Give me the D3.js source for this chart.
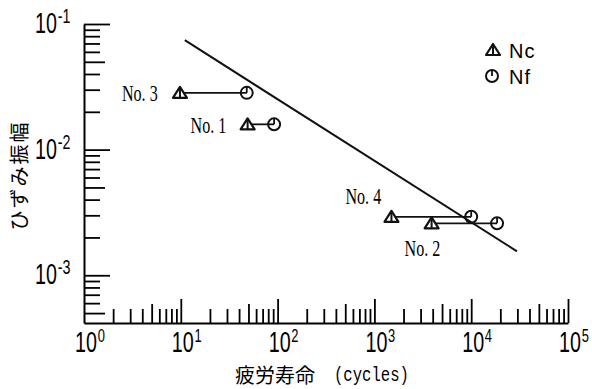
<!DOCTYPE html>
<html>
<head>
<meta charset="utf-8">
<script src="https://cdn.jsdelivr.net/npm/d3@7"></script>
<style>
  body { margin: 0; background: #fff; }
</style>
</head>
<body>
<script>
// values
const specimens = ["No. 1", "No. 2", "No. 3", "No. 4"];
const cyclesNc = [49, 3900, 9.8, 1500];
const cyclesNf = [92, 18500, 48, 10000];
const strainAmp = [0.0159, 0.00259, 0.0283, 0.00292];
const fitCycles = [11, 29700];
const fitStrain = [0.0743, 0.00155];
const xTickExps = [0, 1, 2, 3, 4, 5];
const yTickExps = [-1, -2, -3];
const legendLabels = ["Nc", "Nf"];

const width = 592;
const height = 389;

const x = d3.scaleLog().domain([1, 1e5]).range([84, 568]);
const y = d3.scaleLog().domain([Math.pow(10, -3.38), 0.1]).range([323, 24]);

const svg = d3.select("body").append("svg")
    .attr("width", width)
    .attr("height", height)
    .attr("viewBox", [0, 0, width, height]);

// mantissa of a tick value: 1 = decade, 5 = half decade
const mant = v => Math.round(v / Math.pow(10, Math.floor(Math.log10(v) + 1e-9)));

// x axis, ticks pointing up into the plot
svg.append("g")
    .attr("transform", `translate(0,${y.range()[0]})`)
    .call(d3.axisBottom(x)
        .tickValues(x.ticks().filter(v => v > 1))
        .tickSizeOuter(0)
        .tickFormat(""))
    .call(g => g.select(".domain").attr("stroke-width", 2))
    .call(g => g.selectAll(".tick line")
        .attr("stroke-width", 1.8)
        .attr("y2", d => mant(d) === 1 ? -24 : mant(d) === 5 ? -19 : -14));

// y axis, ticks pointing right
svg.append("g")
    .attr("transform", `translate(${x.range()[0]},0)`)
    .call(d3.axisLeft(y)
        .tickValues(y.ticks())
        .tickSizeOuter(0)
        .tickFormat(""))
    .call(g => g.select(".domain").attr("stroke-width", 2))
    .call(g => g.selectAll(".tick line")
        .attr("stroke-width", 1.8)
        .attr("x2", d => mant(d) === 1 ? 26 : mant(d) === 5 ? 21 : 16));

// power-of-ten labels, condensed like the original lettering
function powLabel(g, px, py, exp, supSize) {
  const t = g.append("g").attr("transform", `translate(${px},${py}) scale(0.68,1)`);
  t.append("text")
      .attr("text-anchor", "end")
      .attr("font-family", "Liberation Sans, Arial, sans-serif")
      .attr("font-size", 29)
      .text("10");
  t.append("text")
      .attr("x", 1)
      .attr("y", -10)
      .attr("font-family", "Liberation Sans, Arial, sans-serif")
      .attr("font-size", supSize)
      .text(exp < 0 ? "-" + (-exp) : exp);
}

const xLab = svg.append("g");
xTickExps.forEach(e => powLabel(xLab, x(Math.pow(10, e)) + 13, 352, e, 19));

const yLab = svg.append("g");
yTickExps.forEach(e => powLabel(yLab, 57, y(Math.pow(10, e)) + 9, e, 21));

// axis titles
svg.append("text")
    .attr("transform", `translate(27,${(y.range()[0] + y.range()[1]) / 2 + 2}) rotate(-90)`)
    .attr("text-anchor", "middle")
    .attr("font-family", "Noto Sans CJK JP, sans-serif")
    .attr("font-size", 20)
    .attr("letter-spacing", 2)
    .text("ひずみ振幅");

svg.append("text")
    .attr("x", 235)
    .attr("y", 383)
    .attr("font-family", "Noto Sans CJK JP, sans-serif")
    .attr("font-size", 20)
    .text("疲労寿命");
svg.append("text")
    .attr("transform", "translate(334,381) scale(0.78,1)")
    .attr("font-family", "Liberation Mono, monospace")
    .attr("font-size", 20)
    .text("(cycles)");

// fitted line
const line = d3.line()
    .x(d => x(d[0]))
    .y(d => y(d[1]));

svg.append("path")
    .datum(d3.zip(fitCycles, fitStrain))
    .attr("fill", "none")
    .attr("stroke", "#111")
    .attr("stroke-width", 2)
    .attr("d", line);

// markers
function triangle(g, cx, cy) {
  g.append("path")
      .attr("d", `M${cx - 7},${cy + 5}L${cx},${cy - 6}L${cx + 7},${cy + 5}Z`)
      .attr("fill", "#fff")
      .attr("stroke", "#111")
      .attr("stroke-width", 2.2)
      .attr("stroke-linejoin", "round");
  g.append("line")
      .attr("x1", cx).attr("y1", cy - 5)
      .attr("x2", cx).attr("y2", cy + 5)
      .attr("stroke", "#111")
      .attr("stroke-width", 2);
}

function clock(g, cx, cy) {
  g.append("circle")
      .attr("cx", cx).attr("cy", cy).attr("r", 6)
      .attr("fill", "none")
      .attr("stroke", "#111")
      .attr("stroke-width", 2);
  g.append("line")
      .attr("x1", cx).attr("y1", cy - 6)
      .attr("x2", cx).attr("y2", cy)
      .attr("stroke", "#111")
      .attr("stroke-width", 1.8);
}

const pts = svg.append("g");
specimens.forEach((s, i) => {
  pts.append("line")
      .attr("x1", x(cyclesNc[i]))
      .attr("x2", x(cyclesNf[i]))
      .attr("y1", y(strainAmp[i]))
      .attr("y2", y(strainAmp[i]))
      .attr("stroke", "#111")
      .attr("stroke-width", 1.8);
  triangle(pts, x(cyclesNc[i]), y(strainAmp[i]));
  clock(pts, x(cyclesNf[i]), y(strainAmp[i]));
});

// specimen labels (offsets from the Nc marker)
const labelOffset = [[-57, 9], [-27, 33], [-58, 8], [-46, -13]];
specimens.forEach((s, i) => {
  const lx = x(cyclesNc[i]) + labelOffset[i][0];
  const ly = y(strainAmp[i]) + labelOffset[i][1];
  svg.append("text")
      .attr("transform", `translate(${lx},${ly}) scale(0.7,1)`)
      .attr("font-family", "Liberation Serif, serif")
      .attr("font-size", 23)
      .text(s);
});

// legend
const leg = svg.append("g");
legendLabels.forEach((t, i) => {
  const ly = 50 + i * 26;
  if (i === 0) triangle(leg, 493, ly); else clock(leg, 492, ly);
  leg.append("text")
      .attr("x", 509)
      .attr("y", ly + 8)
      .attr("font-family", "Liberation Sans, Arial, sans-serif")
      .attr("font-size", 20)
      .attr("letter-spacing", 1)
      .text(t);
});
</script>
</body>
</html>
